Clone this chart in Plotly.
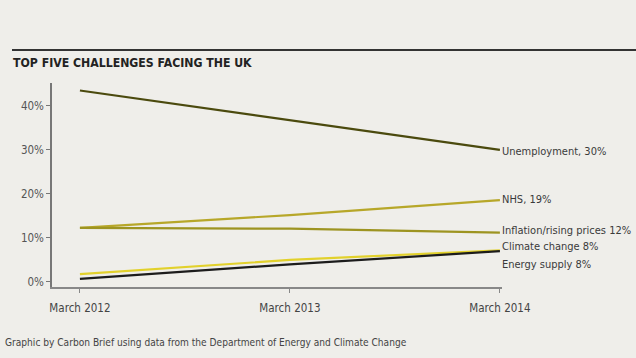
import plotly.graph_objects as go

periods = ["March 2012", "March 2013", "March 2014"]
unemployment = [43.5, 36.8, 30.0]
nhs = [12.3, 15.2, 18.6]
inflation = [12.3, 12.1, 11.2]
climate_change = [1.8, 5.0, 7.2]
energy_supply = [0.7, 4.0, 7.0]

series_names = ["Unemployment", "NHS", "Inflation/rising prices", "Climate change", "Energy supply"]
series_values = [unemployment, nhs, inflation, climate_change, energy_supply]
end_labels = ["Unemployment, 30%", "NHS, 19%", "Inflation/rising prices 12%", "Climate change 8%", "Energy supply 8%"]
label_y = [29.6, 18.7, 11.8, 8.0, 3.9]
colors = ["#4b4a0e", "#b7a729", "#9d9421", "#e2d12c", "#1c1c1c"]
y_ticks = [0, 10, 20, 30, 40]
y_tick_labels = ["0%", "10%", "20%", "30%", "40%"]

FONT = "DejaVu Sans Condensed, Liberation Sans Narrow, sans-serif"

fig = go.Figure()
for name, vals, col in zip(series_names, series_values, colors):
    fig.add_trace(go.Scatter(x=periods, y=vals, mode="lines", name=name,
                             line=dict(color=col, width=2.2), showlegend=False,
                             hoverinfo="skip"))

for txt, yv in zip(end_labels, label_y):
    fig.add_annotation(x=periods[-1], y=yv, text=txt, showarrow=False,
                       xanchor="left", xshift=0, yanchor="middle",
                       font=dict(family=FONT, size=11, color="#3a3a3a"))

fig.update_layout(
    width=636, height=358,
    paper_bgcolor="#efeeea", plot_bgcolor="#efeeea",
    margin=dict(l=52, r=134, t=83, b=71, autoexpand=False),
    font=dict(family=FONT, size=11.5, color="#555555"),
    xaxis=dict(type="category", range=[-0.133, 2.01], showgrid=False, zeroline=False,
               automargin=False,
               showline=True, linecolor="#888888", linewidth=1.5,
               ticks="outside", ticklen=4, tickcolor="#888888", ticklabelstandoff=5,
               tickfont=dict(family=FONT, size=11.5, color="#444444")),
    yaxis=dict(range=[-1.14, 45.2], tickvals=y_ticks, ticktext=y_tick_labels,
               automargin=False,
               showgrid=False, zeroline=False, showline=True, linecolor="#777777", linewidth=1.5,
               ticks="outside", ticklen=4, tickcolor="#777777",
               tickfont=dict(family=FONT, size=11.5, color="#555555")),
)

fig.add_shape(type="line", xref="paper", yref="paper", x0=-40/450, x1=(636-52)/450,
              y0=(358-71-50)/204, y1=(358-71-50)/204,
              line=dict(color="#333333", width=2))
fig.add_annotation(xref="paper", yref="paper", x=-41/450, y=(358-71-63)/204,
                   text="<b>TOP FIVE CHALLENGES FACING THE UK</b>", showarrow=False,
                   xanchor="left", yanchor="middle",
                   font=dict(family=FONT, size=12.2, color="#222222"))
fig.add_annotation(xref="paper", yref="paper", x=-49/450, y=(358-71-342)/204,
                   text="Graphic by Carbon Brief using data from the Department of Energy and Climate Change",
                   showarrow=False, xanchor="left", yanchor="middle",
                   font=dict(family=FONT, size=10.1, color="#444444"))

fig.write_html("out.html", config={"displayModeBar": False},
               post_script="document.body.style.margin='0';")
